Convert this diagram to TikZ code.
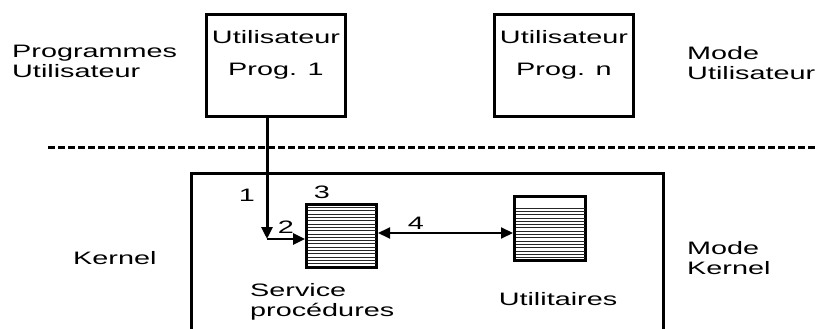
\documentclass[tikz,border=0pt]{standalone}
\usepackage{fontspec}
\setmainfont[FakeStretch=1.6]{Liberation Sans}
\usepackage{tikz}
\usetikzlibrary{arrows.meta,positioning}

\begin{document}
\begin{tikzpicture}[x=1pt, y=-1pt,
    every node/.style={font=\fontsize{18}{20}\selectfont, inner sep=0pt},
    progbox/.style={draw, line width=3pt, minimum width=139pt, minimum height=102pt},
    listbox/.style={draw, line width=3pt, minimum width=70pt, minimum height=63pt},
    lbl/.style={align=left, anchor=north west},
    hatch/.style={line width=0.8pt, black!85},
    tip/.style={-{Triangle[length=12pt, width=11pt]}},
    bothtip/.style={{Triangle[length=12pt, width=11pt]}-{Triangle[length=12pt, width=11pt]}}]
    \clip (0,0) rectangle (819,329);

    % user side
    \node (prog1) [progbox] at (276,65.5) {};
    \node (progn) [progbox] at (564,65.5) {};
    \node (txt1) [align=center, anchor=north] at ([yshift=-17pt]prog1.north) {Utilisateur\\[12pt]Prog. 1};
    \node (txtn) [align=center, anchor=north] at ([yshift=-17pt]progn.north) {Utilisateur\\[12pt]Prog. n};
    \node (progs) [lbl] at (12,45) {Programmes\\Utilisateur};
    \node (modeu) [lbl] at (687,46) {Mode\\Utilisateur};

    % separation
    \draw[line width=3pt, dash pattern=on 7pt off 3pt] (48,147) -- (817,147);

    % kernel side
    \node (kernel) [draw, line width=3pt, minimum width=472pt, minimum height=200pt, anchor=north west] at (189.5,171.5) {};
    \node (kern) [lbl] at (73,251) {Kernel};
    \node (modek) [lbl] at (687,241) {Mode\\Kernel};

    \node (svc) [listbox] at (341.5,235.5) {};
    \node (util) [listbox, minimum width=71pt, minimum height=64pt] at (550,228.5) {};
    \foreach \yy in {207.5,210.8,...,266}
        \draw[hatch] (307.5,\yy) -- (375.5,\yy);
    \foreach \yy in {208,211.3,...,259}
        \draw[hatch] (515.5,\yy) -- (584.5,\yy);
    \node (svctxt) [lbl] at (250,283) {Service\\procédures};
    \node (utiltxt) [anchor=north] at (558,292) {Utilitaires};

    % calls
    \coordinate (turn) at (267,239);
    \draw[line width=3pt, tip] (prog1.south -| turn) -- (turn);
    \draw[line width=2.5pt, tip] (turn) -- (svc.west |- turn);
    \draw[line width=2pt, bothtip] ([yshift=2.5pt]svc.east) -- (util.west |- 0,233);

    \node (n1) at (247,195) {1};
    \node (n2) at (286,227) {2};
    \node (n3) at (322,192) {3};
    \node (n4) at (416,223) {4};
  \end{tikzpicture}
\end{document}
